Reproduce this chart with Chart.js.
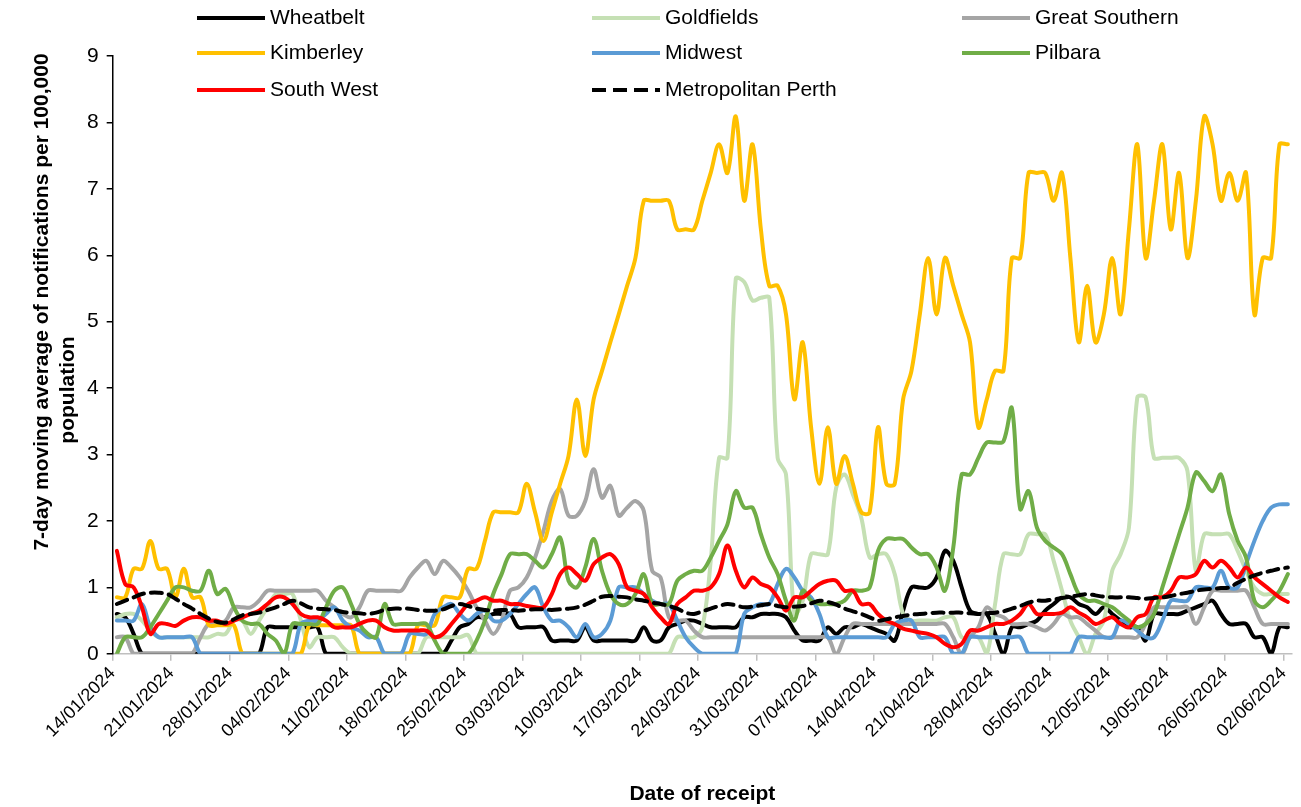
<!DOCTYPE html>
<html>
<head>
<meta charset="utf-8">
<script src="https://cdn.jsdelivr.net/npm/chart.js@4.4.1/dist/chart.umd.min.js"></script>
<style>
  html, body { margin: 0; padding: 0; background: #fff; }
</style>
</head>
<body>
<canvas id="chart" width="1301" height="807"></canvas>
<script>
// one point per day, 14/01/2024 .. 02/06/2024
const dates = [];
for (let i = 0; i < 141; i++) {
  const d = new Date(2024, 0, 14 + i);
  dates.push(String(d.getDate()).padStart(2, '0') + '/' + String(d.getMonth() + 1).padStart(2, '0') + '/' + d.getFullYear());
}
const tickDays = [0, 7, 14, 21, 28, 35, 42, 49, 56, 63, 70, 77, 84, 91, 98, 105, 112, 119, 126, 133, 140];

const wheatbelt = [
  0.6, 0.55, 0.3, 0, 0, 0, 0, 0, 0, 0,
  0, 0, 0, 0, 0, 0, 0, 0, 0.4, 0.4,
  0.4, 0.4, 0.4, 0.4, 0.4, 0, 0, 0, 0, 0,
  0, 0, 0, 0, 0, 0, 0, 0, 0, 0,
  0.2, 0.4, 0.45, 0.55, 0.55, 0.6, 0.6, 0.6, 0.4, 0.4,
  0.4, 0.4, 0.2, 0.2, 0.2, 0.2, 0.4, 0.2, 0.2, 0.2,
  0.2, 0.2, 0.2, 0.4, 0.2, 0.2, 0.4, 0.45, 0.5, 0.5,
  0.45, 0.4, 0.4, 0.4, 0.4, 0.55, 0.55, 0.6, 0.6, 0.6,
  0.55, 0.35, 0.2, 0.2, 0.2, 0.4, 0.3, 0.4, 0.4, 0.45,
  0.4, 0.35, 0.3, 0.2, 0.65, 1.0, 1.0, 1.0, 1.15, 1.55,
  1.4, 1.0, 0.65, 0.6, 0.6, 0.3, 0, 0.4, 0.4, 0.45,
  0.5, 0.65, 0.75, 0.85, 0.85, 0.75, 0.7, 0.6, 0.7, 0.6,
  0.5, 0.4, 0.4, 0.2, 0.6, 0.6, 0.6, 0.6, 0.65, 0.7,
  0.75, 0.8, 0.6, 0.45, 0.45, 0.45, 0.25, 0.25, 0, 0.4,
  0.4
];
const goldfields = [
  0.55, 0.6, 0.6, 0.5, 0.35, 0.25, 0.25, 0.25, 0.25, 0.25,
  0.25, 0.25, 0.3, 0.3, 0.5, 0.5, 0.3, 0.5, 0.7, 0.9,
  0.9, 0.9, 0.5, 0.1, 0.25, 0.25, 0.25, 0.1, 0, 0,
  0, 0, 0, 0, 0, 0, 0, 0.25, 0.25, 0.25,
  0.25, 0.25, 0.28, 0, 0, 0, 0, 0, 0, 0,
  0, 0, 0, 0, 0, 0, 0, 0, 0, 0,
  0, 0, 0, 0, 0, 0, 0, 0.25, 0.25, 0.25,
  0.4, 1.4, 2.95, 2.95, 5.65, 5.6, 5.32, 5.36, 5.36, 2.95,
  2.7, 0.6, 0.8, 1.5, 1.5, 1.5, 2.5, 2.7, 2.4, 2.05,
  1.45, 1.5, 1.5, 1.2, 0.6, 0.5, 0.5, 0.5, 0.5, 0.55,
  0.55, 0.25, 0.25, 0.25, 0, 0.75, 1.5, 1.5, 1.5, 1.8,
  1.8, 1.8, 1.4, 0.95, 0.5, 0.25, 0, 0.3, 0.5, 1.25,
  1.5, 1.9, 3.86, 3.86, 2.95, 2.95, 2.95, 2.95, 2.75, 1.25,
  1.8, 1.8, 1.8, 1.8, 1.55, 1.25, 1.0, 0.9, 0.9, 0.9,
  0.9
];
const greatSouthern = [
  0.25, 0.25, 0, 0, 0, 0, 0, 0, 0, 0,
  0.25, 0.45, 0.45, 0.5, 0.7, 0.7, 0.7, 0.8, 0.95, 0.95,
  0.95, 0.95, 0.95, 0.95, 0.95, 0.8, 0.7, 0.6, 0.55, 0.7,
  0.95, 0.95, 0.95, 0.95, 0.95, 1.15, 1.3, 1.4, 1.2, 1.4,
  1.3, 1.15, 0.95, 0.7, 0.5, 0.3, 0.5, 0.95, 1.0, 1.15,
  1.45, 1.85, 2.3, 2.48, 2.08, 2.08, 2.3, 2.78, 2.35, 2.53,
  2.08, 2.2, 2.3, 2.15, 1.25, 1.15, 0.55, 0.5, 0.5, 0.35,
  0.25, 0.25, 0.25, 0.25, 0.25, 0.25, 0.25, 0.25, 0.25, 0.25,
  0.25, 0.25, 0.25, 0.25, 0.25, 0.25, 0, 0.25, 0.45, 0.45,
  0.45, 0.45, 0.45, 0.45, 0.45, 0.45, 0.45, 0.45, 0.45, 0.45,
  0.25, 0, 0.25, 0.4, 0.7, 0.6, 0.55, 0.45, 0.45, 0.45,
  0.4, 0.35, 0.45, 0.6, 0.55, 0.55, 0.45, 0.35, 0.25, 0.25,
  0.25, 0.25, 0.25, 0.45, 0.7, 0.7, 0.7, 0.7, 0.7, 0.45,
  0.7, 0.95, 0.95, 0.95, 0.95, 0.95, 0.7, 0.45, 0.45, 0.45,
  0.45
];
const kimberley = [
  0.85, 0.85, 1.28, 1.28, 1.7, 1.28, 1.28, 0.85, 1.28, 0.85,
  0.85, 0.43, 0.43, 0.43, 0.43, 0, 0, 0, 0, 0,
  0, 0, 0, 0.43, 0.43, 0.43, 0.43, 0.43, 0.43, 0,
  0, 0, 0, 0, 0, 0, 0.43, 0.43, 0.43, 0.85,
  0.85, 0.85, 1.28, 1.28, 1.7, 2.13, 2.13, 2.13, 2.13, 2.56,
  2.13, 1.7, 2.13, 2.56, 2.98, 3.83, 2.98, 3.83, 4.26, 4.69,
  5.11, 5.54, 5.96, 6.82, 6.82, 6.82, 6.82, 6.39, 6.39, 6.39,
  6.82, 7.24, 7.67, 7.24, 8.09, 6.82, 7.67, 6.39, 5.54, 5.54,
  5.11, 3.83, 4.69, 3.41, 2.56, 3.41, 2.56, 2.98, 2.56, 2.13,
  2.13, 3.41, 2.56, 2.56, 3.83, 4.26, 5.11, 5.96, 5.11, 5.96,
  5.54, 5.11, 4.69, 3.41, 3.83, 4.26, 4.26, 5.96, 5.96, 7.24,
  7.24, 7.24, 6.82, 7.24, 5.96, 4.69, 5.54, 4.69, 5.11, 5.96,
  5.11, 6.39, 7.67, 5.96, 6.82, 7.67, 6.39, 7.24, 5.96, 6.82,
  8.09, 7.67, 6.82, 7.24, 6.82, 7.24, 5.11, 5.96, 5.96, 7.67,
  7.67
];
const midwest = [
  0.5, 0.5, 0.5, 0.75, 0.4, 0.25, 0.25, 0.25, 0.25, 0.25,
  0, 0, 0, 0, 0, 0, 0, 0, 0, 0,
  0, 0, 0.45, 0.5, 0.5, 0.6, 0.7, 0.5, 0.4, 0.35,
  0.25, 0.25, 0, 0, 0, 0.3, 0.3, 0.3, 0.6, 0.7,
  0.75, 0.6, 0.5, 0.6, 0.65, 0.5, 0.5, 0.6, 0.75, 0.9,
  1.0, 0.7, 0.5, 0.5, 0.4, 0.25, 0.45, 0.25, 0.3, 0.5,
  1.0, 1.0, 1.0, 0.9, 0.8, 0.75, 0.75, 0.5, 0.25, 0.1,
  0, 0, 0, 0, 0, 0.6, 0.7, 0.75, 0.75, 1.05,
  1.28, 1.15, 0.95, 0.85, 0.6, 0.25, 0.25, 0.25, 0.25, 0.25,
  0.25, 0.25, 0.25, 0.45, 0.5, 0.5, 0.25, 0.25, 0.25, 0.25,
  0, 0, 0.25, 0.25, 0.25, 0.25, 0.25, 0.25, 0.25, 0,
  0, 0, 0, 0, 0, 0.25, 0.25, 0.25, 0.25, 0.25,
  0.5, 0.45, 0.35, 0.25, 0.25, 0.5, 0.8, 0.8, 0.8, 1.0,
  1.0, 1.0, 1.25, 1.0, 1.0, 1.35, 1.7, 2.0, 2.2, 2.25,
  2.25
];
const pilbara = [
  0, 0.25, 0.25, 0.25, 0.4, 0.6, 0.8, 1.0, 1.0, 0.95,
  0.95, 1.25, 0.9, 0.98, 0.7, 0.5, 0.45, 0.45, 0.3, 0.2,
  0, 0.45, 0.45, 0.45, 0.45, 0.7, 0.95, 1.0, 0.75, 0.45,
  0.3, 0.25, 0.75, 0.45, 0.45, 0.45, 0.45, 0.45, 0.2, 0,
  0, 0, 0, 0.2, 0.5, 0.9, 1.2, 1.5, 1.5, 1.5,
  1.4, 1.3, 1.5, 1.75, 1.1, 1.0, 1.3, 1.73, 1.25, 0.9,
  0.75, 0.75, 0.9, 1.2, 0.75, 0.75, 0.75, 1.1, 1.2, 1.25,
  1.25, 1.45, 1.7, 1.95, 2.45, 2.2, 2.2, 1.8, 1.45, 1.2,
  0.8, 0.5, 0.95, 0.8, 0.75, 0.75, 0.75, 0.8, 0.95, 0.95,
  1.0, 1.55, 1.73, 1.73, 1.73, 1.6, 1.5, 1.5, 1.3, 0.95,
  1.6, 2.7, 2.7, 2.95, 3.18, 3.18, 3.2, 3.7, 2.18, 2.45,
  1.9, 1.7, 1.6, 1.5, 1.2, 0.9, 0.8, 0.8, 0.75, 0.7,
  0.6, 0.5, 0.4, 0.45, 0.6, 1.0, 1.4, 1.8, 2.2, 2.73,
  2.6, 2.45, 2.7, 2.1, 1.7, 1.45, 0.8, 0.7, 0.8, 0.95,
  1.2
];
const southWest = [
  1.55, 1.05, 1.0, 0.7, 0.3, 0.45, 0.45, 0.42, 0.5, 0.55,
  0.55, 0.5, 0.5, 0.45, 0.5, 0.55, 0.6, 0.65, 0.75, 0.85,
  0.85, 0.75, 0.6, 0.55, 0.55, 0.5, 0.4, 0.4, 0.4, 0.45,
  0.5, 0.5, 0.4, 0.35, 0.35, 0.35, 0.35, 0.35, 0.25, 0.3,
  0.45, 0.6, 0.75, 0.8, 0.85, 0.8, 0.8, 0.75, 0.75, 0.72,
  0.7, 0.7, 0.9, 1.2, 1.3, 1.2, 1.1, 1.35, 1.45, 1.5,
  1.35, 1.0, 0.95, 0.9, 0.7, 0.55, 0.45, 0.75, 0.85, 0.95,
  0.95, 1.0, 1.2, 1.63, 1.25, 1.0, 1.15, 1.05, 1.0, 0.85,
  0.65, 0.85, 0.85, 0.95, 1.05, 1.1, 1.1, 0.95, 0.95, 0.75,
  0.75, 0.6, 0.5, 0.45, 0.38, 0.35, 0.32, 0.3, 0.25, 0.15,
  0.1, 0.15, 0.35, 0.35, 0.4, 0.45, 0.45, 0.5, 0.6, 0.75,
  0.6, 0.6, 0.6, 0.62, 0.7, 0.62, 0.55, 0.45, 0.5, 0.55,
  0.45, 0.4, 0.55, 0.6, 0.85, 0.85, 0.95, 1.15, 1.15, 1.2,
  1.4, 1.3, 1.4, 1.3, 1.15, 1.3, 1.15, 1.05, 0.95, 0.85,
  0.78
];
const metroPerth = [
  0.75, 0.8, 0.85, 0.9, 0.92, 0.92, 0.9, 0.83, 0.75, 0.68,
  0.6, 0.53, 0.48, 0.47, 0.52, 0.58, 0.6, 0.62, 0.66, 0.7,
  0.75, 0.8, 0.76, 0.7, 0.68, 0.67, 0.66, 0.63, 0.62, 0.61,
  0.6, 0.62, 0.66, 0.68, 0.68, 0.68, 0.66, 0.65, 0.65, 0.67,
  0.72, 0.75, 0.72, 0.68, 0.66, 0.65, 0.66, 0.66, 0.65, 0.66,
  0.67, 0.67, 0.66, 0.67, 0.68, 0.7, 0.74, 0.8, 0.86, 0.87,
  0.86, 0.85, 0.82, 0.8, 0.77, 0.75, 0.72, 0.68, 0.62, 0.6,
  0.64, 0.68, 0.72, 0.75, 0.73, 0.7, 0.71, 0.73, 0.75, 0.72,
  0.7, 0.71, 0.72, 0.76, 0.8, 0.78, 0.74, 0.68, 0.64, 0.6,
  0.55, 0.5, 0.52, 0.55, 0.57, 0.59, 0.6, 0.61, 0.62, 0.62,
  0.62, 0.62, 0.61, 0.6, 0.61, 0.62, 0.64, 0.68, 0.72, 0.77,
  0.8, 0.8, 0.82, 0.84, 0.86, 0.88, 0.9, 0.88, 0.86, 0.85,
  0.85, 0.85, 0.84, 0.83, 0.84, 0.85, 0.87, 0.9, 0.92, 0.95,
  0.97, 0.98, 0.99, 1.0, 1.07, 1.13, 1.18, 1.22, 1.25, 1.28,
  1.3
];

const regions = ['Wheatbelt', 'Goldfields', 'Great Southern', 'Kimberley', 'Midwest', 'Pilbara', 'South West', 'Metropolitan Perth'];
const seriesValues = [wheatbelt, goldfields, greatSouthern, kimberley, midwest, pilbara, southWest, metroPerth];
const colors = ['#000000', '#c5e0b4', '#a5a5a5', '#ffc000', '#5b9bd5', '#70ad47', '#ff0000', '#000000'];
const yTitleLines = ['7-day moving average of notifications per 100,000', 'population'];

const FONT = '"Liberation Sans", Arial, sans-serif';
Chart.defaults.font.family = FONT;
Chart.defaults.color = '#000';

// points sit in the middle of each day slot, like Excel's date axis
const datasets = regions.map((name, i) => ({
  label: name,
  data: seriesValues[i].map((v, d) => ({ x: d + 0.5, y: v })),
  borderColor: colors[i],
  borderWidth: 4,
  borderDash: i === 7 ? [11, 7] : [],
  pointRadius: 0,
  fill: false,
  order: regions.length - i
}));

// legend in three columns, drawn over the top of the plot
const legendCols = [197, 592, 962];
const legendRows = [18, 53, 90];
const gridLegend = {
  id: 'gridLegend',
  afterDraw(chart) {
    const c = chart.ctx;
    c.save();
    c.font = '21px ' + FONT;
    c.textBaseline = 'middle';
    chart.data.datasets.forEach((ds, i) => {
      const x = legendCols[i % 3];
      const y = legendRows[Math.floor(i / 3)];
      c.strokeStyle = ds.borderColor;
      c.lineWidth = 4;
      c.setLineDash(ds.borderDash.length ? [14, 7] : []);
      c.beginPath();
      c.moveTo(x, y);
      c.lineTo(x + 68, y);
      c.stroke();
      c.setLineDash([]);
      c.fillStyle = '#000';
      c.fillText(ds.label, x + 73, y);
    });
    c.restore();
  }
};

// y axis title, two lines placed as in the original
const yTitle = {
  id: 'yTitle',
  afterDraw(chart) {
    const c = chart.ctx;
    c.save();
    c.font = 'bold 21px ' + FONT;
    c.fillStyle = '#000';
    c.textAlign = 'center';
    c.textBaseline = 'middle';
    [[42, 302], [68, 390]].forEach(([x, y], i) => {
      c.save();
      c.translate(x, y);
      c.rotate(-Math.PI / 2);
      c.fillText(yTitleLines[i], 0, 0);
      c.restore();
    });
    c.restore();
  }
};

new Chart(document.getElementById('chart').getContext('2d'), {
  type: 'line',
  data: { datasets },
  options: {
    responsive: false,
    animation: false,
    devicePixelRatio: 1,
    layout: { padding: { top: 56, right: 8, left: 79, bottom: 0 } },
    elements: { line: { tension: 0.35, borderCapStyle: 'round', borderJoinStyle: 'round' } },
    plugins: { legend: { display: false }, tooltip: { enabled: false } },
    scales: {
      x: {
        type: 'linear',
        min: 0,
        max: 141,
        afterBuildTicks: axis => { axis.ticks = tickDays.map(v => ({ value: v })); },
        ticks: {
          autoSkip: false,
          minRotation: 45,
          maxRotation: 45,
          padding: 2,
          font: { size: 18 },
          callback: v => dates[v]
        },
        grid: { drawOnChartArea: false, drawTicks: true, tickLength: 7, color: '#bfbfbf', lineWidth: 1.5 },
        border: { color: '#bfbfbf', width: 1.5 },
        title: { display: true, text: 'Date of receipt', font: { size: 21, weight: 'bold' }, padding: { top: 38, bottom: 0 } }
      },
      y: {
        min: 0,
        max: 9,
        ticks: { stepSize: 1, font: { size: 21 }, padding: 8 },
        grid: { drawOnChartArea: false, drawTicks: true, tickLength: 6, color: '#000', lineWidth: 1.5 },
        border: { color: '#000', width: 1.5 }
      }
    }
  },
  plugins: [gridLegend, yTitle]
});
</script>
</body>
</html>
